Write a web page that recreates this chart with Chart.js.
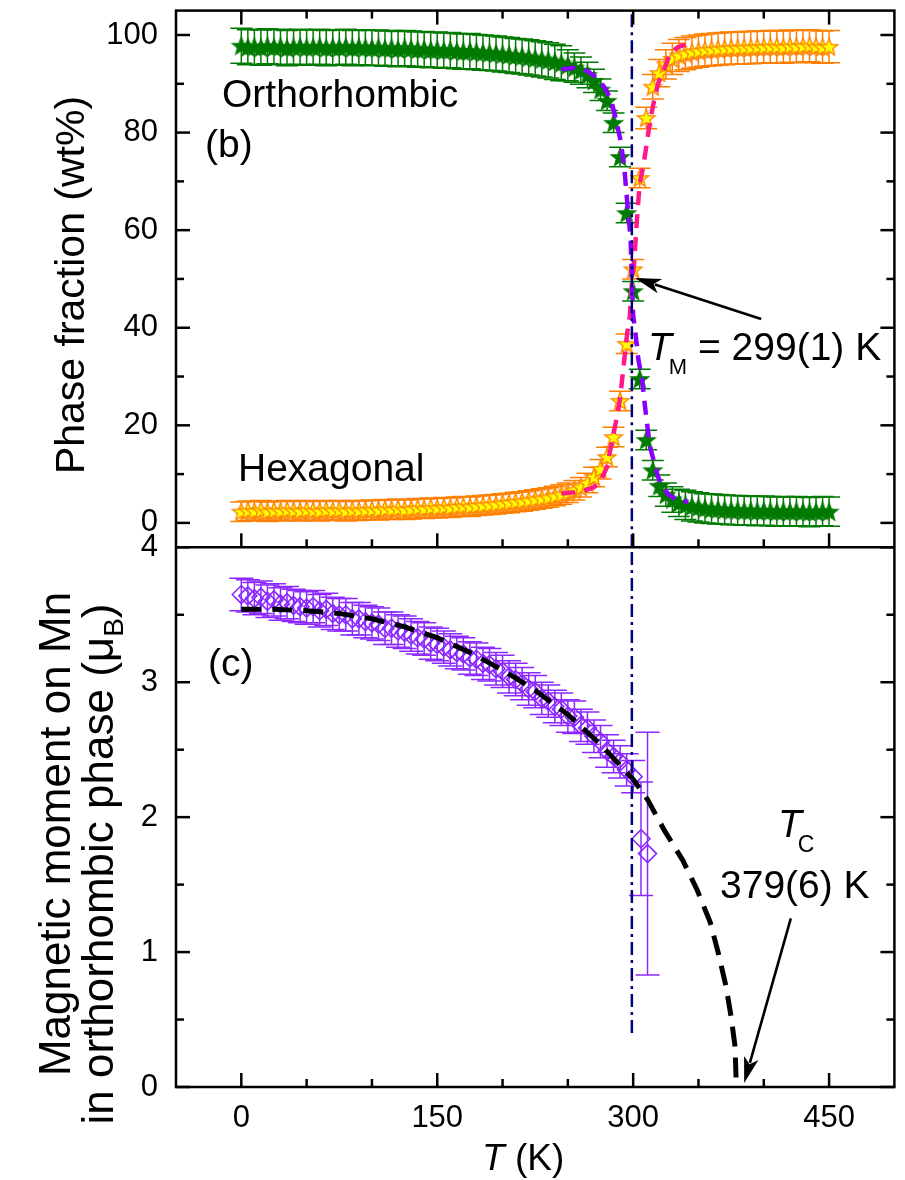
<!DOCTYPE html>
<html lang="en">
<head>
<meta charset="UTF-8">
<title>Phase fraction and Mn moment vs T</title>
<script src="https://cdn.jsdelivr.net/npm/chart.js"></script>
<style>
  html, body { margin: 0; padding: 0; background: #fff; }
</style>
</head>
<body>
<canvas id="phaseChart" width="905" height="1180"></canvas>
<script>
// ---- panel (b): phase fractions ----
const tempB = [
  0, 5, 10, 15, 20, 25, 30, 35, 40, 45,
  50, 55, 60, 65, 70, 75, 80, 85, 90, 95,
  100, 105, 110, 115, 120, 125, 130, 135, 140, 145,
  150, 155, 160, 165, 170, 175, 180, 185, 190, 195,
  200, 205, 210, 215, 220, 225, 230, 235, 240, 245,
  250, 255, 260, 265, 270, 275, 280, 285, 290, 295,
  300, 305, 310, 315, 320, 325, 330, 335, 340, 345,
  350, 355, 360, 365, 370, 375, 380, 385, 390, 395,
  400, 405, 410, 415, 420, 425, 430, 435, 440, 445,
  450
];
const orthoFrac = [
  97.8, 97.5, 97.6, 97.4, 97.7, 97.5, 97.6, 97.3, 97.5, 97.6,
  97.4, 97.5, 97.6, 97.3, 97.5, 97.4, 97.6, 97.3, 97.5, 97.4,
  97.3, 97.4, 97.2, 97.3, 97.1, 97.3, 97.2, 97.0, 97.1, 96.9,
  97.0, 96.8, 96.9, 96.7, 96.6, 96.7, 96.5, 96.4, 96.3, 96.2,
  96.0, 95.9, 95.7, 95.6, 95.4, 95.2, 95.0, 94.8, 94.5, 94.2,
  93.8, 93.3, 92.7, 91.8, 90.6, 88.8, 86.5, 82.0, 75.0, 63.5,
  47.5, 29.5, 17.0, 10.8, 7.6, 5.8, 4.8, 4.1, 3.7, 3.4,
  3.2, 3.0, 2.9, 2.8, 2.7, 2.6, 2.6, 2.5, 2.5, 2.4,
  2.5, 2.4, 2.3, 2.4, 2.3, 2.4, 2.3, 2.2, 2.3, 2.4,
  2.3
];
const orthoErr = [
  3.6, 3.6, 3.6, 3.6, 3.6, 3.6, 3.6, 3.6, 3.6, 3.6,
  3.6, 3.6, 3.6, 3.6, 3.6, 3.6, 3.6, 3.6, 3.6, 3.6,
  3.6, 3.6, 3.6, 3.6, 3.6, 3.6, 3.6, 3.6, 3.6, 3.6,
  3.6, 3.6, 3.6, 3.6, 3.6, 3.6, 3.6, 3.6, 3.6, 3.6,
  3.6, 3.6, 3.6, 3.6, 3.6, 3.6, 3.6, 3.6, 3.6, 3.6,
  3.2, 3.0, 2.8, 2.6, 2.4, 2.2, 2.0, 2.0, 2.0, 2.0,
  2.0, 2.0, 2.0, 2.0, 2.2, 2.4, 2.6, 2.8, 3.0, 3.0,
  3.0, 3.0, 3.0, 3.0, 3.0, 3.0, 3.0, 3.0, 3.0, 3.0,
  3.0, 3.0, 3.0, 3.0, 3.0, 3.0, 3.0, 3.0, 3.0, 3.0,
  3.0
];
const hexaFrac = [
  2.3, 2.5, 2.4, 2.6, 2.3, 2.5, 2.4, 2.6, 2.5, 2.4,
  2.6, 2.5, 2.4, 2.6, 2.5, 2.6, 2.4, 2.6, 2.5, 2.6,
  2.7, 2.6, 2.8, 2.7, 2.9, 2.7, 2.8, 3.0, 2.9, 3.1,
  3.0, 3.2, 3.1, 3.3, 3.4, 3.3, 3.5, 3.6, 3.7, 3.8,
  4.0, 4.1, 4.3, 4.4, 4.6, 4.8, 5.0, 5.2, 5.5, 5.8,
  6.2, 6.7, 7.3, 8.2, 9.4, 11.0, 13.5, 17.6, 25.0, 36.7,
  52.0, 70.7, 83.0, 89.4, 92.2, 94.0, 95.1, 95.8, 96.2, 96.5,
  96.7, 96.9, 97.0, 97.1, 97.2, 97.3, 97.3, 97.4, 97.4, 97.5,
  97.5, 97.6, 97.6, 97.5, 97.7, 97.6, 97.7, 97.8, 97.6, 97.5,
  97.6
];
const hexaErr = [
  2.0, 2.0, 2.0, 2.0, 2.0, 2.0, 2.0, 2.0, 2.0, 2.0,
  2.0, 2.0, 2.0, 2.0, 2.0, 2.0, 2.0, 2.0, 2.0, 2.0,
  2.0, 2.0, 2.0, 2.0, 2.0, 2.0, 2.0, 2.0, 2.0, 2.0,
  2.0, 2.0, 2.0, 2.0, 2.0, 2.0, 2.0, 2.0, 2.0, 2.0,
  2.0, 2.0, 2.0, 2.0, 2.0, 2.0, 2.0, 2.0, 2.0, 2.0,
  2.0, 2.0, 2.0, 2.0, 2.0, 2.0, 2.0, 2.0, 2.0, 2.0,
  2.0, 2.0, 2.2, 2.5, 2.8, 3.0, 3.2, 3.3, 3.3, 3.3,
  3.3, 3.3, 3.3, 3.3, 3.3, 3.3, 3.3, 3.3, 3.3, 3.3,
  3.3, 3.3, 3.3, 3.3, 3.3, 3.3, 3.3, 3.3, 3.3, 3.3,
  3.3
];
// fitted curves (dashed)
const fitOrthoT = [245, 255, 265, 272, 278, 283, 287, 290, 293, 296, 298, 299, 300, 301.5, 304, 307, 309, 311, 313, 316, 319, 322, 327, 333, 342];
const fitOrthoV = [93.0, 93.3, 92.6, 91.3, 89.3, 86.8, 82.5, 78.8, 73.5, 64.0, 58.5, 50.0, 42.5, 39.4, 33.5, 29.0, 24.0, 19.5, 15.5, 12.5, 9.5, 7.6, 5.8, 4.8, 4.3];
const fitHexaT = [245, 255, 263, 270, 275, 280, 284, 287, 290, 293, 295.5, 297.5, 299, 300.5, 302, 303.5, 305, 308, 310.5, 313, 316, 319, 323, 328, 334, 340];
const fitHexaV = [6.0, 6.3, 6.7, 7.3, 8.5, 11.5, 17.0, 21.0, 25.5, 33.0, 39.0, 42.5, 49.0, 52.5, 58.5, 64.5, 69.5, 73.5, 78.0, 82.5, 86.5, 90.0, 92.5, 96.0, 97.5, 98.0];

// ---- panel (c): Mn moment ----
const tempC = [
  0, 5, 10, 15, 20, 25, 30, 35, 40, 45,
  50, 55, 60, 65, 70, 75, 80, 85, 90, 95,
  100, 105, 110, 115, 120, 125, 130, 135, 140, 145,
  150, 155, 160, 165, 170, 175, 180, 185, 190, 195,
  200, 205, 210, 215, 220, 225, 230, 235, 240, 245,
  250, 255, 260, 265, 270, 275, 280, 285, 290, 295,
  300, 306, 311
];
const moment = [
  3.65, 3.64, 3.62, 3.63, 3.60, 3.61, 3.58, 3.59, 3.57, 3.56,
  3.55, 3.56, 3.53, 3.54, 3.51, 3.50, 3.50, 3.47, 3.47, 3.45,
  3.44, 3.43, 3.40, 3.40, 3.38, 3.37, 3.35, 3.33, 3.32, 3.29,
  3.28, 3.26, 3.24, 3.22, 3.21, 3.18, 3.17, 3.14, 3.13, 3.10,
  3.08, 3.04, 3.02, 2.99, 2.95, 2.93, 2.88, 2.86, 2.82, 2.80,
  2.75, 2.74, 2.68, 2.66, 2.60, 2.56, 2.49, 2.45, 2.41, 2.35,
  2.30, 1.84, 1.73
];
const momentErr = [
  0.12, 0.12, 0.12, 0.12, 0.12, 0.12, 0.12, 0.12, 0.12, 0.12,
  0.12, 0.12, 0.12, 0.12, 0.12, 0.12, 0.12, 0.12, 0.12, 0.12,
  0.12, 0.12, 0.12, 0.12, 0.12, 0.12, 0.12, 0.12, 0.12, 0.12,
  0.12, 0.12, 0.12, 0.12, 0.12, 0.12, 0.12, 0.12, 0.12, 0.12,
  0.12, 0.12, 0.12, 0.12, 0.12, 0.12, 0.12, 0.12, 0.12, 0.12,
  0.12, 0.12, 0.12, 0.12, 0.12, 0.12, 0.12, 0.12, 0.12, 0.12,
  0.12, 0.42, 0.90
];
const fitMomT = [0, 25, 50, 75, 100, 125, 150, 175, 200, 225, 250, 275, 300, 311, 324, 338, 349, 359, 365, 371, 375, 378, 379];
const fitMomV = [3.54, 3.54, 3.53, 3.51, 3.47, 3.41, 3.33, 3.22, 3.09, 2.94, 2.76, 2.54, 2.28, 2.13, 1.90, 1.68, 1.46, 1.22, 1.00, 0.75, 0.52, 0.30, 0.00];

const tM = 299;          // martensitic transition
const tMLineEndC = 0.4;  // dash-dot line stops here in panel (c)

// axes
const xTicks = [0, 150, 300, 450];
const xMinor = [50, 100, 200, 250, 350, 400];
const yTicksB = [0, 20, 40, 60, 80, 100];
const yMinorB = [10, 30, 50, 70, 90];
const yTicksC = [0, 1, 2, 3, 4];
const yMinorC = [0.5, 1.5, 2.5, 3.5];

const FONT = '"Liberation Sans", Arial, Helvetica, sans-serif';

function makeStar(fill, stroke) {
    const c = document.createElement('canvas');
    c.width = 22; c.height = 22;
    const g = c.getContext('2d');
    g.beginPath();
    for (let i = 0; i < 10; i++) {
        const r = i % 2 ? 3.9 : 9.2;
        const a = -Math.PI / 2 + i * Math.PI / 5;
        g.lineTo(11 + r * Math.cos(a), 11.8 + r * Math.sin(a));
    }
    g.closePath();
    g.fillStyle = fill;
    g.fill();
    g.lineWidth = 1.4;
    g.strokeStyle = stroke;
    g.stroke();
    return c;
}

const pts = (xs, ys) => xs.map((x, i) => ({ x: x, y: ys[i] }));

function drawRuns(ctx, x, y, parts) {
    for (const p of parts) {
        ctx.font = p.font;
        ctx.fillText(p.text, x, y + (p.dy || 0));
        x += ctx.measureText(p.text).width + (p.kern || 0);
    }
}
function runsWidth(ctx, parts) {
    let w = 0;
    for (const p of parts) { ctx.font = p.font; w += ctx.measureText(p.text).width + (p.kern || 0); }
    return w;
}
function drawRotated(ctx, bx, cy, parts) {
    ctx.save();
    ctx.translate(bx, cy);
    ctx.rotate(-Math.PI / 2);
    const w = runsWidth(ctx, parts);
    drawRuns(ctx, -w / 2, 0, parts);
    ctx.restore();
}
function arrow(ctx, x1, y1, x2, y2) {
    const a = Math.atan2(y2 - y1, x2 - x1);
    const L = 26, W = 7.5;
    ctx.beginPath();
    ctx.moveTo(x1, y1);
    ctx.lineTo(x2 - Math.cos(a) * L * 0.8, y2 - Math.sin(a) * L * 0.8);
    ctx.stroke();
    ctx.beginPath();
    ctx.moveTo(x2, y2);
    ctx.lineTo(x2 - Math.cos(a) * L - Math.sin(a) * W, y2 - Math.sin(a) * L + Math.cos(a) * W);
    ctx.lineTo(x2 - Math.cos(a) * L * 0.75, y2 - Math.sin(a) * L * 0.75);
    ctx.lineTo(x2 - Math.cos(a) * L + Math.sin(a) * W, y2 - Math.sin(a) * L - Math.cos(a) * W);
    ctx.closePath();
    ctx.fill();
}
// the frame is drawn by hand, so the scales must not push the plot area inwards
function noScalePadding(s) {
    s.paddingTop = 0; s.paddingBottom = 0; s.paddingLeft = 0; s.paddingRight = 0;
}

// vertical error bars with caps
const errorBars = {
    id: 'errorBars',
    beforeDatasetsDraw(chart) {
        const { ctx } = chart;
        chart.data.datasets.forEach((ds, i) => {
            if (!ds.errors) return;
            const meta = chart.getDatasetMeta(i);
            const ys = chart.scales[ds.yAxisID];
            ctx.save();
            ctx.beginPath();
            ctx.rect(chart.chartArea.left, ys.top, chart.chartArea.right - chart.chartArea.left, ys.bottom - ys.top);
            ctx.clip();
            ctx.strokeStyle = ds.errorColor;
            ctx.lineWidth = 1.5;
            meta.data.forEach((pt, j) => {
                const v = ds.data[j].y, e = ds.errors[j];
                const yt = ys.getPixelForValue(v + e), yb = ys.getPixelForValue(v - e);
                ctx.beginPath();
                ctx.moveTo(pt.x, yt); ctx.lineTo(pt.x, yb);
                ctx.moveTo(pt.x - ds.capHalf, yt); ctx.lineTo(pt.x + ds.capHalf, yt);
                ctx.moveTo(pt.x - ds.capHalf, yb); ctx.lineTo(pt.x + ds.capHalf, yb);
                ctx.stroke();
            });
            ctx.restore();
        });
    }
};

// box, inward ticks, titles and annotations
const decorations = {
    id: 'decorations',
    afterDraw(chart) {
        const { ctx, chartArea: a, scales: { x, yB, yC } } = chart;
        ctx.save();
        ctx.strokeStyle = '#000';
        ctx.fillStyle = '#000';
        ctx.lineWidth = 2.5;
        ctx.strokeRect(a.left, a.top, a.right - a.left, a.bottom - a.top);
        ctx.beginPath();
        ctx.moveTo(a.left, yB.bottom); ctx.lineTo(a.right, yB.bottom);
        ctx.stroke();

        const tick = (x1, y1, x2, y2) => { ctx.beginPath(); ctx.moveTo(x1, y1); ctx.lineTo(x2, y2); ctx.stroke(); };
        const maj = 14, min = 8;
        xTicks.concat(xMinor).forEach(v => {
            const px = x.getPixelForValue(v), len = xTicks.includes(v) ? maj : min;
            tick(px, a.top, px, a.top + len);
            tick(px, yB.bottom, px, yB.bottom - len);
            tick(px, a.bottom, px, a.bottom - len);
        });
        [[yB, yTicksB, yMinorB], [yC, yTicksC, yMinorC]].forEach(([s, mj, mn]) => {
            mj.concat(mn).forEach(v => {
                const py = s.getPixelForValue(v), len = mj.includes(v) ? maj : min;
                tick(a.left, py, a.left + len, py);
                tick(a.right, py, a.right - len, py);
            });
        });

        ctx.textAlign = 'left';
        ctx.textBaseline = 'alphabetic';
        const big = '39px ' + FONT, it = 'italic 39px ' + FONT;
        drawRuns(ctx, 222, 107, [{ text: 'Orthorhombic', font: big }]);
        drawRuns(ctx, 205, 157, [{ text: '(b)', font: big }]);
        drawRuns(ctx, 238, 481, [{ text: 'Hexagonal', font: big }]);
        drawRuns(ctx, 208, 676, [{ text: '(c)', font: big }]);
        drawRuns(ctx, 648, 360, [
            { text: 'T', font: it, kern: -3 },
            { text: 'M', font: '22px ' + FONT, dy: 14 },
            { text: ' = 299(1) K', font: big }
        ]);
        drawRuns(ctx, 778, 837, [
            { text: 'T', font: it, kern: -4 },
            { text: 'C', font: '23px ' + FONT, dy: 15 }
        ]);
        drawRuns(ctx, 720, 898, [{ text: '379(6) K', font: big }]);

        // x title
        drawRuns(ctx, 482, 1170, [
            { text: 'T', font: 'italic 37px ' + FONT },
            { text: ' (K)', font: '37px ' + FONT }
        ]);
        // y titles
        drawRotated(ctx, 84, 285, [{ text: 'Phase fraction (wt%)', font: '41px ' + FONT }]);
        drawRotated(ctx, 70, 834, [{ text: 'Magnetic moment on Mn', font: '44px ' + FONT }]);
        drawRotated(ctx, 113, 864, [
            { text: 'in orthorhombic phase (\u03bc', font: '44px ' + FONT },
            { text: 'B', font: '28px ' + FONT, dy: 10 },
            { text: ')', font: '44px ' + FONT }
        ]);

        // arrows
        ctx.lineWidth = 2.6;
        arrow(ctx, x.getPixelForValue(398), yB.getPixelForValue(41.8), x.getPixelForValue(301.5), yB.getPixelForValue(50.2));
        arrow(ctx, x.getPixelForValue(420.7), yC.getPixelForValue(1.25), x.getPixelForValue(385), yC.getPixelForValue(0.03));
        ctx.restore();
    }
};

const ctx = document.getElementById('phaseChart').getContext('2d');
const tickFont = { family: FONT, size: 31 };

new Chart(ctx, {
    type: 'scatter',
    data: {
        datasets: [
            {
                label: 'TM line (b)', data: [{ x: tM, y: -5 }, { x: tM, y: 105 }], yAxisID: 'yB',
                showLine: true, pointRadius: 0, borderColor: '#00007a', borderWidth: 2.5, borderDash: [13, 5, 3, 5]
            },
            {
                label: 'TM line (c)', data: [{ x: tM, y: tMLineEndC }, { x: tM, y: 4 }], yAxisID: 'yC',
                showLine: true, pointRadius: 0, borderColor: '#00007a', borderWidth: 2.5, borderDash: [13, 5, 3, 5]
            },
            {
                label: 'Orthorhombic fit', data: pts(fitOrthoT, fitOrthoV), yAxisID: 'yB',
                showLine: true, pointRadius: 0, borderColor: '#8a00ff', borderWidth: 4.5, borderDash: [14, 9]
            },
            {
                label: 'Hexagonal fit', data: pts(fitHexaT, fitHexaV), yAxisID: 'yB',
                showLine: true, pointRadius: 0, borderColor: '#ff1a8c', borderWidth: 4.5, borderDash: [14, 9]
            },
            {
                label: 'Moment fit', data: pts(fitMomT, fitMomV), yAxisID: 'yC',
                showLine: true, pointRadius: 0, borderColor: '#000', borderWidth: 5, borderDash: [20, 11]
            },
            {
                label: 'Hexagonal', data: pts(tempB, hexaFrac), yAxisID: 'yB',
                pointStyle: makeStar('#ffff00', '#ff8000'), errors: hexaErr, errorColor: '#ff8000', capHalf: 11
            },
            {
                label: 'Orthorhombic', data: pts(tempB, orthoFrac), yAxisID: 'yB',
                pointStyle: makeStar('#007a00', '#007a00'), errors: orthoErr, errorColor: '#007a00', capHalf: 11
            },
            {
                label: 'Mn moment', data: pts(tempC, moment), yAxisID: 'yC',
                pointStyle: 'rectRot', pointRadius: 9, pointBorderWidth: 1.6,
                pointBorderColor: '#8c28ff', pointBackgroundColor: 'rgba(0,0,0,0)',
                errors: momentErr, errorColor: '#8c28ff', capHalf: 12
            }
        ]
    },
    options: {
        responsive: false,
        animation: false,
        layout: { padding: { top: 10, right: 6, left: 0, bottom: 0 } },
        plugins: { legend: { display: false }, tooltip: { enabled: false } },
        scales: {
            x: {
                type: 'linear', min: -50, max: 500,
                grid: { display: false, drawTicks: false }, border: { display: false },
                ticks: { font: tickFont, color: '#000', padding: 13, maxRotation: 0 },
                afterBuildTicks: s => { s.ticks = xTicks.map(v => ({ value: v })); },
                afterFit: s => { s.height = 93; noScalePadding(s); }
            },
            yB: {
                type: 'linear', position: 'left', stack: 'panels', stackWeight: 537, weight: 2,
                min: -5, max: 105,
                grid: { display: false, drawTicks: false }, border: { display: false },
                ticks: { font: tickFont, color: '#000', padding: 18 },
                afterBuildTicks: s => { s.ticks = yTicksB.map(v => ({ value: v })); },
                afterFit: s => { s.width = 176; noScalePadding(s); }
            },
            yC: {
                type: 'linear', position: 'left', stack: 'panels', stackWeight: 540, weight: 1,
                min: 0, max: 4,
                grid: { display: false, drawTicks: false }, border: { display: false },
                ticks: { font: tickFont, color: '#000', padding: 18 },
                afterBuildTicks: s => { s.ticks = yTicksC.map(v => ({ value: v })); },
                afterFit: s => { s.width = 176; noScalePadding(s); }
            }
        }
    },
    plugins: [errorBars, decorations]
});
</script>
</body>
</html>
